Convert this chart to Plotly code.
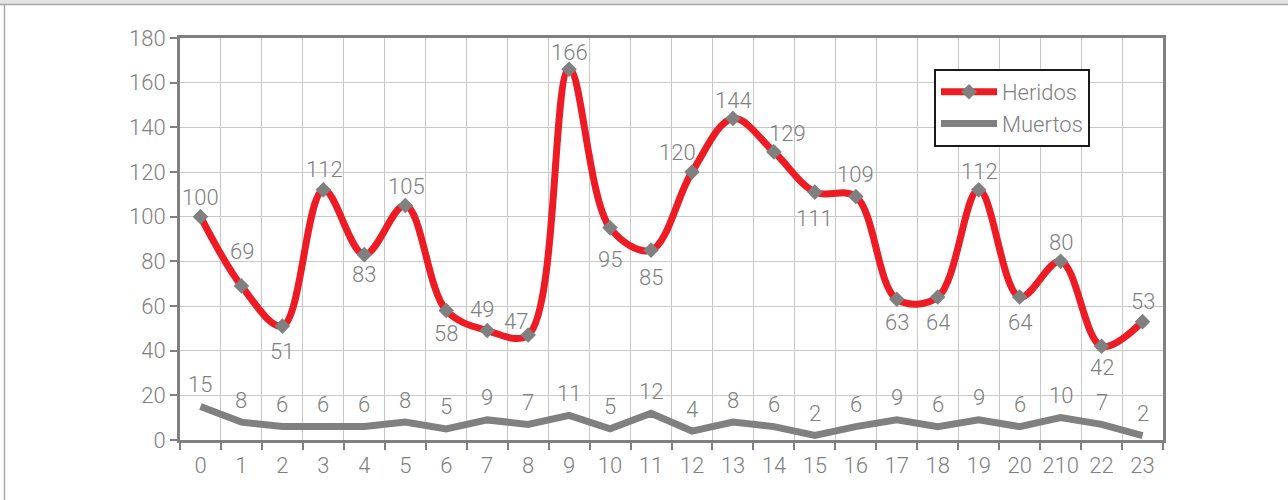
import plotly.graph_objects as go

hours = ["0", "1", "2", "3", "4", "5", "6", "7", "8", "9", "10", "11", "12",
         "13", "14", "15", "16", "17", "18", "19", "20", "210", "22", "23"]
heridos = [100, 69, 51, 112, 83, 105, 58, 49, 47, 166, 95, 85, 120, 144, 129,
           111, 109, 63, 64, 112, 64, 80, 42, 53]
muertos = [15, 8, 6, 6, 6, 8, 5, 9, 7, 11, 5, 12, 4, 8, 6, 2, 6, 9, 6, 9, 6,
           10, 7, 2]
y_ticks = [0, 20, 40, 60, 80, 100, 120, 140, 160, 180]

# label offsets (pixels) for the Heridos data labels
her_dx = [0, 1, 0, 1, 0, 1, 0, -5, -12, 0, 0, 0, -14, 1, 14, 0, 0, 0, 0, 1, 0, 0, 0, 0]
her_dy = [19, 34, -25, 20, -20, 19, -23, 21, 14, 17, -32, -27, 20, 18, 18, -26,
          22, -23, -25, 18, -25, 19, -21, 20]

GRAY = "#808080"
RED = "#ed1c24"
FONT = "Roboto"
FSIZE = 22

fig = go.Figure()
fig.add_trace(go.Scatter(
    x=hours, y=heridos, name="Heridos", mode="lines+markers",
    line=dict(color=RED, width=7, shape="spline", smoothing=1.0),
    marker=dict(symbol="diamond", size=12, color=GRAY),
))
fig.add_trace(go.Scatter(
    x=hours, y=muertos, name="Muertos", mode="lines",
    line=dict(color=GRAY, width=7),
))

lab_font = dict(family=FONT, size=FSIZE, color=GRAY, weight=300)
annotations = []
for i, v in enumerate(heridos):
    annotations.append(dict(x=i, y=v, xref="x", yref="y", text=str(v),
                            showarrow=False, xshift=her_dx[i], yshift=her_dy[i],
                            font=lab_font))
for i, v in enumerate(muertos):
    annotations.append(dict(x=i, y=v, xref="x", yref="y", text=str(v),
                            showarrow=False, yshift=22, font=lab_font))

L, R, T, B = 180, 125, 38, 60
W, H = 1288, 500
pw, ph = W - L - R, H - T - B


def px_x(p):
    return (p - L) / pw


def px_y(p):
    return (H - B - p) / ph


shapes = [
    dict(type="rect", xref="paper", yref="paper", x0=px_x(0), x1=px_x(W),
         y0=px_y(4.5), y1=px_y(0), fillcolor="#e3e3e3", line=dict(width=0),
         layer="below"),
    dict(type="line", xref="paper", yref="paper", x0=px_x(0), x1=px_x(W),
         y0=px_y(4.5), y1=px_y(4.5), line=dict(color="#a8a8a8", width=1.5)),
    dict(type="line", xref="paper", yref="paper", x0=px_x(4.5), x1=px_x(4.5),
         y0=px_y(H), y1=px_y(4.5), line=dict(color="#a8a8a8", width=1.5)),
]

tickfont = dict(family=FONT, size=FSIZE, color=GRAY, weight=300)

fig.update_layout(
    width=W, height=H,
    margin=dict(l=L, r=R, t=T, b=B, autoexpand=False),
    paper_bgcolor="white", plot_bgcolor="white",
    font=dict(family=FONT, size=FSIZE, color=GRAY, weight=300),
    showlegend=True,
    legend=dict(x=px_x(934), y=px_y(69), xanchor="left", yanchor="top",
                bgcolor="white", bordercolor="#1a1a1a", borderwidth=2,
                font=dict(family=FONT, size=FSIZE, color=GRAY, weight=300),
                tracegroupgap=0, itemwidth=56),
    annotations=annotations,
    shapes=shapes,
    xaxis=dict(type="category", tickson="boundaries", showgrid=True,
               gridcolor="#c8c8c8", gridwidth=1, ticks="outside", ticklen=7,
               tickwidth=2, tickcolor=GRAY, showline=True, linecolor=GRAY,
               linewidth=3, mirror=True, tickfont=tickfont, tickangle=0,
               ticklabelstandoff=4, automargin=False, range=[-0.5, 23.5]),
    yaxis=dict(range=[0, 180], tickvals=y_ticks, showgrid=True,
               gridcolor="#c8c8c8", gridwidth=1, ticks="outside", ticklen=7,
               tickwidth=2, tickcolor=GRAY, showline=True, linecolor=GRAY,
               linewidth=3, mirror=True, zeroline=False, automargin=False,
               tickfont=tickfont),
)

fig.write_html("out.html", config={"displayModeBar": False},
               post_script="document.body.style.margin='0px';")
